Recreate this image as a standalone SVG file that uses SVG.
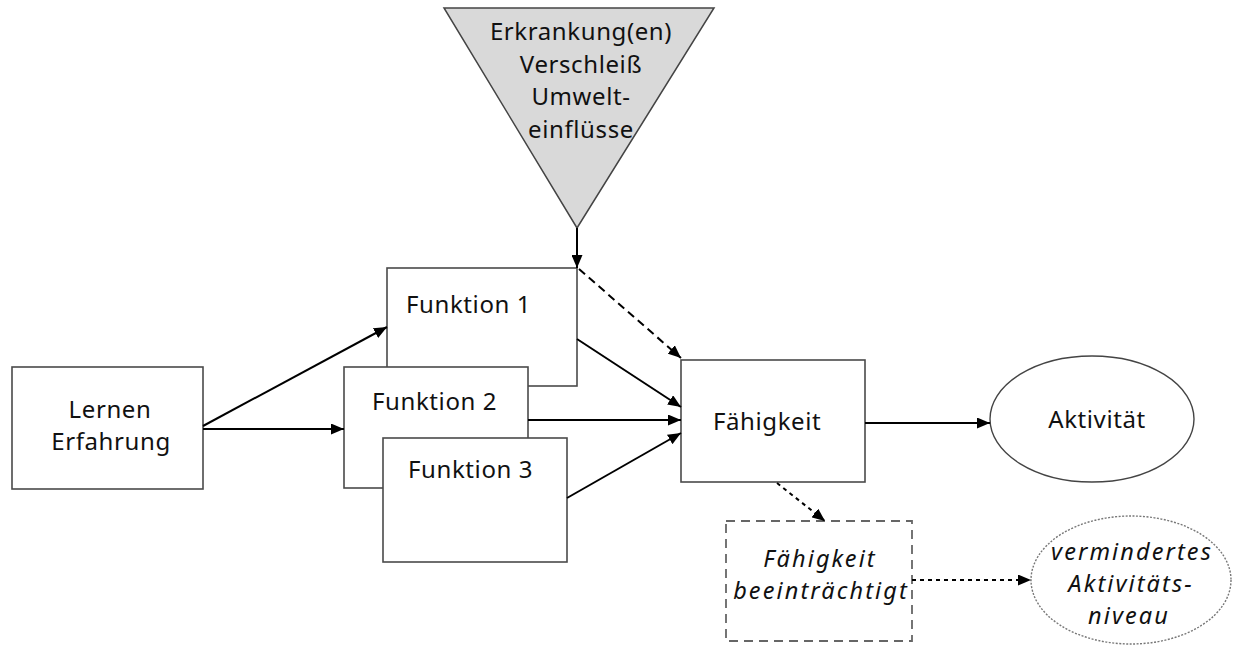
<svg xmlns="http://www.w3.org/2000/svg" width="1235" height="645" viewBox="0 0 1235 645">
<defs>
<marker id="ah" markerWidth="13" markerHeight="11" refX="13" refY="5.5" orient="auto" markerUnits="userSpaceOnUse" viewBox="0 0 13 11">
<path d="M0,0 L13,5.5 L0,11 z" fill="#000"/>
</marker>
</defs>
<style>
.box{fill:#fff;stroke:#4a4a4a;stroke-width:1.6}
.dbox{fill:#fff;stroke:#666;stroke-width:1.8;stroke-dasharray:9,6}
.dell{fill:#fff;stroke:#777;stroke-width:1.4;stroke-dasharray:2,1.5}
.t{font-family:"Noto Sans","Open Sans","DejaVu Sans",sans-serif;font-size:24px;letter-spacing:0.6px;fill:#111}
.c{text-anchor:middle}
.i{font-style:italic;font-size:23.5px;letter-spacing:2.1px}
.ln{stroke:#000;stroke-width:2;fill:none}
.dl{stroke:#000;stroke-width:2;fill:none;stroke-dasharray:8,5}
.dt{stroke:#000;stroke-width:2;fill:none;stroke-dasharray:4,4}
</style>
<rect width="1235" height="645" fill="#fff"/>

<g id="ursachen">
<polygon points="444,8 714,8 577,228" fill="#d9d9d9" stroke="#444" stroke-width="1.5"/>
<text class="t c" x="581" y="40" font-size="26" letter-spacing="0.8">Erkrankung(en)</text>
<text class="t c" x="581" y="73" font-size="26" letter-spacing="0.8">Verschleiß</text>
<text class="t c" x="581" y="105" font-size="26" letter-spacing="0.8">Umwelt-</text>
<text class="t c" x="581" y="138" font-size="26" letter-spacing="0.8">einflüsse</text>
</g>

<g id="lernen">
<rect class="box" x="12" y="367" width="191" height="122"/>
<text class="t c" x="110" y="418">Lernen</text>
<text class="t c" x="111" y="450">Erfahrung</text>
</g>

<g id="funktion1">
<rect class="box" x="387" y="268" width="190" height="118"/>
<text class="t" x="406" y="313">Funktion 1</text>
</g>

<g id="funktion2">
<rect class="box" x="344" y="367" width="184" height="121"/>
<text class="t" x="372" y="410">Funktion 2</text>
</g>

<g id="funktion3">
<rect class="box" x="383" y="438" width="184" height="124"/>
<text class="t" x="408" y="478">Funktion 3</text>
</g>

<g id="faehigkeit">
<rect class="box" x="681" y="360" width="184" height="122"/>
<text class="t" x="713" y="430">Fähigkeit</text>
</g>

<g id="aktivitaet">
<ellipse cx="1092" cy="419" rx="102" ry="63" fill="#fff" stroke="#444" stroke-width="1.4"/>
<text class="t c" x="1097" y="428" font-size="26" letter-spacing="1">Aktivität</text>
</g>

<g id="faehigkeit-beeintraechtigt">
<rect class="dbox" x="726" y="521" width="186" height="120"/>
<text class="t c i" x="820" y="567">Fähigkeit</text>
<text class="t c i" x="821" y="599">beeinträchtigt</text>
</g>

<g id="vermindertes-aktivitaetsniveau">
<ellipse class="dell" cx="1131" cy="580" rx="100" ry="64"/>
<text class="t c i" x="1132" y="560">vermindertes</text>
<text class="t c i" x="1131" y="592">Aktivitäts-</text>
<text class="t c i" x="1129" y="624">niveau</text>
</g>

<g id="connectors">
<line class="ln" x1="577" y1="228" x2="577" y2="268" marker-end="url(#ah)"/>
<line class="ln" x1="203" y1="426" x2="387" y2="327" marker-end="url(#ah)"/>
<line class="ln" x1="203" y1="429" x2="344" y2="429" marker-end="url(#ah)"/>
<line class="dl" x1="579" y1="269" x2="681" y2="358" marker-end="url(#ah)"/>
<line class="ln" x1="577" y1="339" x2="681" y2="407" marker-end="url(#ah)"/>
<line class="ln" x1="528" y1="420" x2="681" y2="420" marker-end="url(#ah)"/>
<line class="ln" x1="567" y1="498" x2="681" y2="433" marker-end="url(#ah)"/>
<line class="ln" x1="865" y1="423" x2="990" y2="423" marker-end="url(#ah)"/>
<line class="dt" x1="777" y1="483" x2="825" y2="521" marker-end="url(#ah)"/>
<line class="dt" x1="912" y1="580" x2="1031" y2="580" marker-end="url(#ah)"/>
</g>
</svg>
